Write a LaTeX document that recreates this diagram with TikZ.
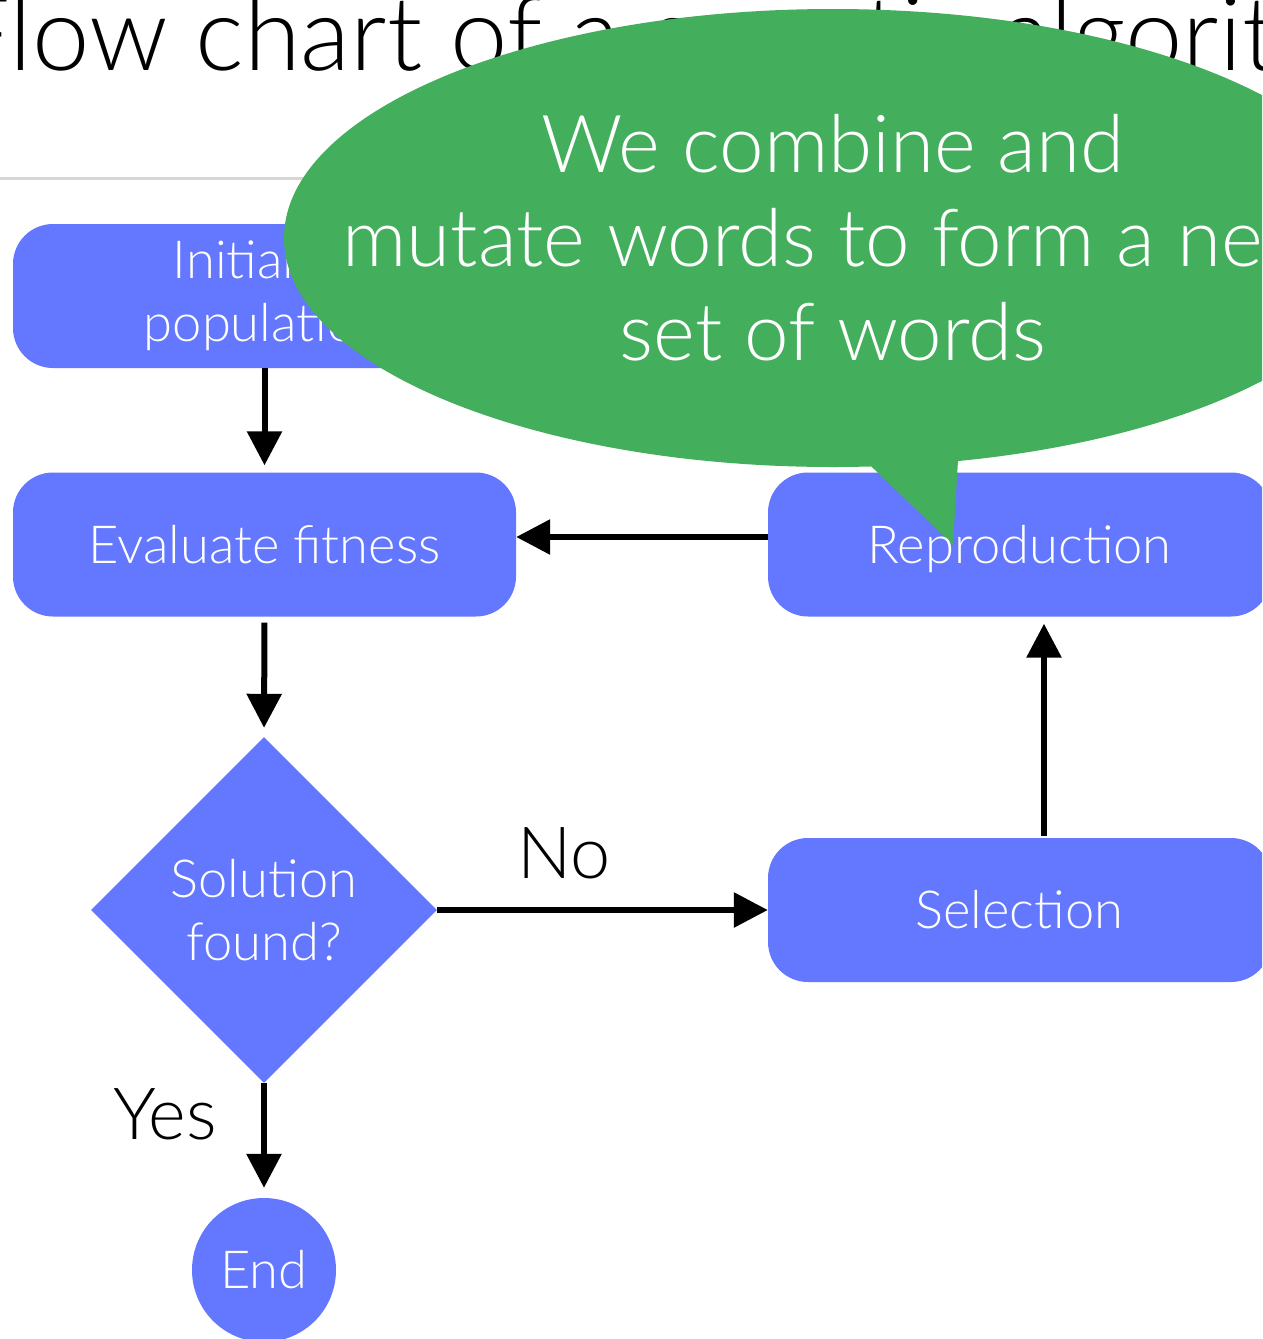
\documentclass[tikz,border=0pt]{standalone}
\usepackage{fontspec}
\setmainfont{Lato Light}
\usetikzlibrary{shapes.geometric,arrows.meta,calc}
\definecolor{flowblue}{RGB}{99,119,255}
\definecolor{bubblegreen}{RGB}{67,174,91}
\definecolor{rulegray}{RGB}{214,214,214}
\begin{document}
\begin{tikzpicture}[x=1pt,y=-1pt,
  stepbox/.style={fill=flowblue, rounded corners=40pt, minimum width=503pt,
    minimum height=144pt, inner sep=0pt},
  boxtext/.style={text=white, font=\fontsize{52.5}{63}\selectfont, align=center, inner sep=0pt},
  decision/.style={diamond, fill=flowblue, minimum width=346pt, minimum height=346pt,
    inner sep=0pt, text=white, font=\fontsize{52.5}{63}\selectfont, align=center},
  terminal/.style={circle, fill=flowblue, minimum size=144pt, inner sep=0pt,
    text=white, font=\fontsize{52.5}{63}\selectfont},
  flow/.style={line width=6pt, -{Triangle[length=34pt,width=34pt]}},
  answer/.style={font=\fontsize{72}{72}\selectfont, anchor=base, inner sep=0pt}
]
\useasboundingbox (0,0) rectangle (1262,1339);
\clip (0,0) rectangle (1262,1339);

% slide title and rule
\node[anchor=base west, inner sep=0pt, font=\fontsize{103}{103}\selectfont]
  (title) at (-48,70) {Flow chart of a genetic algorithm};
\draw[rulegray, line width=3pt] (0,178) -- (1262,178);

% process steps
\node[stepbox, boxtext] (init) at (264.5,296) {Initialize\\population};
\node[stepbox, boxtext] (eval) at (264.5,544.5) {Evaluate fitness};
\node[stepbox] (repr) at (1019.5,544.5) {};
\node[stepbox, boxtext] (sel) at (1019.5,910) {Selection};
\node[decision] (dec) at (264,910) {Solution\\found?};
\node[terminal] (end) at (264,1270) {End};

% connectors
\draw[flow, shorten >=7pt] (init.south) -- (eval.north);
\draw[flow, shorten <=6pt, shorten >=9pt] (eval.south) -- (dec.north);
\draw[flow] (dec.east) -- (sel.west);
\draw[flow, shorten <=2pt, shorten >=7pt] ([xshift=24.5pt]sel.north) -- ([xshift=24.5pt]repr.south);
\draw[flow] ([yshift=7.5pt]repr.west) -- ([yshift=7.5pt]eval.east);
\draw[flow, shorten >=10pt] (dec.south) -- (end.north);

\node[answer] (no) at (564,878) {No};
\node[answer] (yes) at (165,1139) {Yes};

% speech bubble with its pointer
\fill[bubblegreen] (866,461.3) -- (953,545) -- (958.5,452) -- cycle;
\fill[bubblegreen] (833,238) ellipse [x radius=549pt, y radius=229pt];
\node[inner sep=0pt, text=white, align=center, font=\fontsize{80}{94}\selectfont]
  (note) at (833,238) {We combine and\\mutate words to form a new\\set of words};

% label of the step under the pointer, set above it
\node[boxtext, anchor=base] (reprlabel) at ([yshift=-19pt]repr.center) {Reproduction};
\end{tikzpicture}
\end{document}
